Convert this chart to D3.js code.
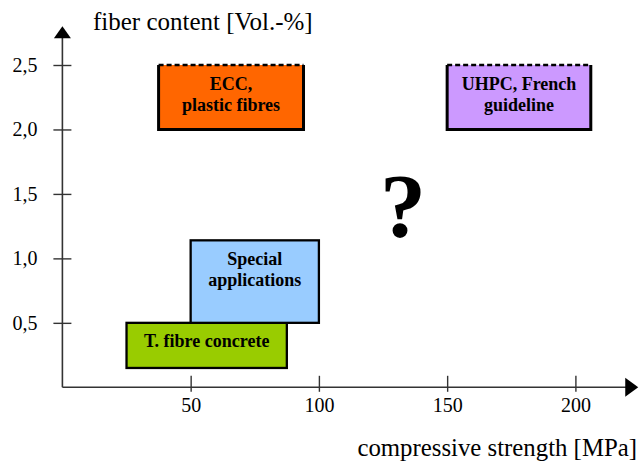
<!DOCTYPE html>
<html>
<head>
<meta charset="utf-8">
<script src="https://cdn.jsdelivr.net/npm/d3@7"></script>
<style>
  html, body { margin: 0; padding: 0; background: #fff; }
  svg { display: block; }
  text { font-family: "Liberation Serif", "Times New Roman", serif; fill: #000; }
</style>
</head>
<body>
<svg id="chart" width="641" height="463"></svg>
<script>
// Application fields of fibre concrete: compressive strength vs. fibre content
const regions = ["T. fibre concrete", "Special applications", "ECC, plastic fibres", "UHPC, French guideline"];
const labelLines = [["T. fibre concrete"], ["Special", "applications"], ["ECC,", "plastic fibres"], ["UHPC, French", "guideline"]];
const strengthMin = [25, 50, 37.5, 150];
const strengthMax = [87.5, 100, 94, 206];
const fibreMin = [0.15, 0.5, 2.0, 2.0];
const fibreMax = [0.5, 1.14, 2.5, 2.5];
const openTop = [false, false, true, true];
const fills = ["#99CC00", "#99CCFF", "#FF6600", "#CC99FF"];

const xTicks = [50, 100, 150, 200];
const yTicks = [0.5, 1.0, 1.5, 2.0, 2.5];
const xTitle = "compressive strength [MPa]";
const yTitle = "fiber content [Vol.-%]";
const xAxisEnd = 224.5;   // arrow tip of the strength axis
const yAxisEnd = 2.8;     // arrow tip of the fibre axis

const svg = d3.select("#chart");
const x = d3.scaleLinear().domain([0, 200]).range([62.4, 575.4]);
const y = d3.scaleLinear().domain([0, 2.5]).range([387.3, 65]);

const comma = d3.formatLocale({ decimal: ",", thousands: ".", grouping: [3], currency: ["", ""] }).format(".1f");
const axisColor = "#333";

// x axis
const gx = svg.append("g").attr("transform", `translate(0,${y(0)})`)
  .call(d3.axisBottom(x).tickValues(xTicks).tickSizeOuter(0).tickFormat(d3.format("d")));
gx.select(".domain").remove();
gx.selectAll(".tick line").attr("y1", -11.5).attr("y2", 4.5).attr("stroke", axisColor).attr("stroke-width", 1.4);
gx.selectAll(".tick text").attr("y", 25).attr("dy", 0)
  .style("font-family", "Liberation Serif, serif").style("font-size", "20px").attr("fill", "#000");

// y axis
const gy = svg.append("g").attr("transform", `translate(${x(0)},0)`)
  .call(d3.axisLeft(y).tickValues(yTicks).tickSizeOuter(0).tickFormat(comma));
gy.select(".domain").remove();
gy.selectAll(".tick line").attr("x1", -9).attr("x2", 9).attr("stroke", axisColor).attr("stroke-width", 1.4);
gy.selectAll(".tick text").attr("x", -25).attr("dy", "0.32em")
  .style("font-family", "Liberation Serif, serif").style("font-size", "20px").attr("fill", "#000");

// axis lines with arrow heads
svg.append("line").attr("x1", x(0)).attr("x2", x(xAxisEnd) - 12).attr("y1", y(0)).attr("y2", y(0))
  .attr("stroke", axisColor).attr("stroke-width", 1.6);
svg.append("line").attr("x1", x(0)).attr("x2", x(0)).attr("y1", y(0)).attr("y2", y(yAxisEnd) + 11)
  .attr("stroke", axisColor).attr("stroke-width", 1.6);
const xt = x(xAxisEnd), yt = y(0);
svg.append("path").attr("d", `M${xt},${yt} L${xt - 13},${yt - 9.5} L${xt - 13},${yt + 9.5} Z`).attr("fill", "#000");
const xa = x(0), ya = y(yAxisEnd);
svg.append("path").attr("d", `M${xa},${ya} L${xa - 8.5},${ya + 12} L${xa + 8.5},${ya + 12} Z`).attr("fill", "#000");

// axis titles
svg.append("text").attr("x", 93).attr("y", 30).style("font-size", "25px").text(yTitle);
svg.append("text").attr("x", 637).attr("y", 456).attr("text-anchor", "end").style("font-size", "24.8px").text(xTitle);

// region boxes
const data = regions.map((name, i) => ({
  name, lines: labelLines[i], x0: strengthMin[i], x1: strengthMax[i],
  y0: fibreMin[i], y1: fibreMax[i], open: openTop[i], fill: fills[i]
}));

const boxes = svg.selectAll("g.region").data(data).join("g").attr("class", "region");
boxes.append("rect")
  .attr("x", d => x(d.x0)).attr("y", d => y(d.y1))
  .attr("width", d => x(d.x1) - x(d.x0)).attr("height", d => y(d.y0) - y(d.y1))
  .attr("fill", d => d.fill)
  .attr("stroke", d => d.open ? "none" : "#000")
  .attr("stroke-width", 2.3);
// open-ended boxes: solid sides and bottom, dashed top
boxes.filter(d => d.open).append("path")
  .attr("d", d => `M${x(d.x0)},${y(d.y1)} L${x(d.x0)},${y(d.y0)} L${x(d.x1)},${y(d.y0)} L${x(d.x1)},${y(d.y1)}`)
  .attr("fill", "none").attr("stroke", "#000").attr("stroke-width", 3).attr("stroke-linejoin", "miter");
boxes.filter(d => d.open).append("line")
  .attr("x1", d => x(d.x0)).attr("x2", d => x(d.x1))
  .attr("y1", d => y(d.y1)).attr("y2", d => y(d.y1))
  .attr("stroke", "#000").attr("stroke-width", 2.5).attr("stroke-dasharray", "5,3");

boxes.each(function (d) {
  const t = d3.select(this).append("text")
    .attr("text-anchor", "middle")
    .style("font-size", "18px").style("font-weight", "bold");
  d.lines.forEach((ln, k) => {
    t.append("tspan").attr("x", (x(d.x0) + x(d.x1)) / 2)
      .attr("y", y(d.y1) + 24.5 + k * 21).text(ln);
  });
});

// open question region
svg.append("text").attr("x", 403).attr("y", 237).attr("text-anchor", "middle")
  .style("font-size", "92px").style("font-weight", "bold").text("?");
</script>
</body>
</html>
